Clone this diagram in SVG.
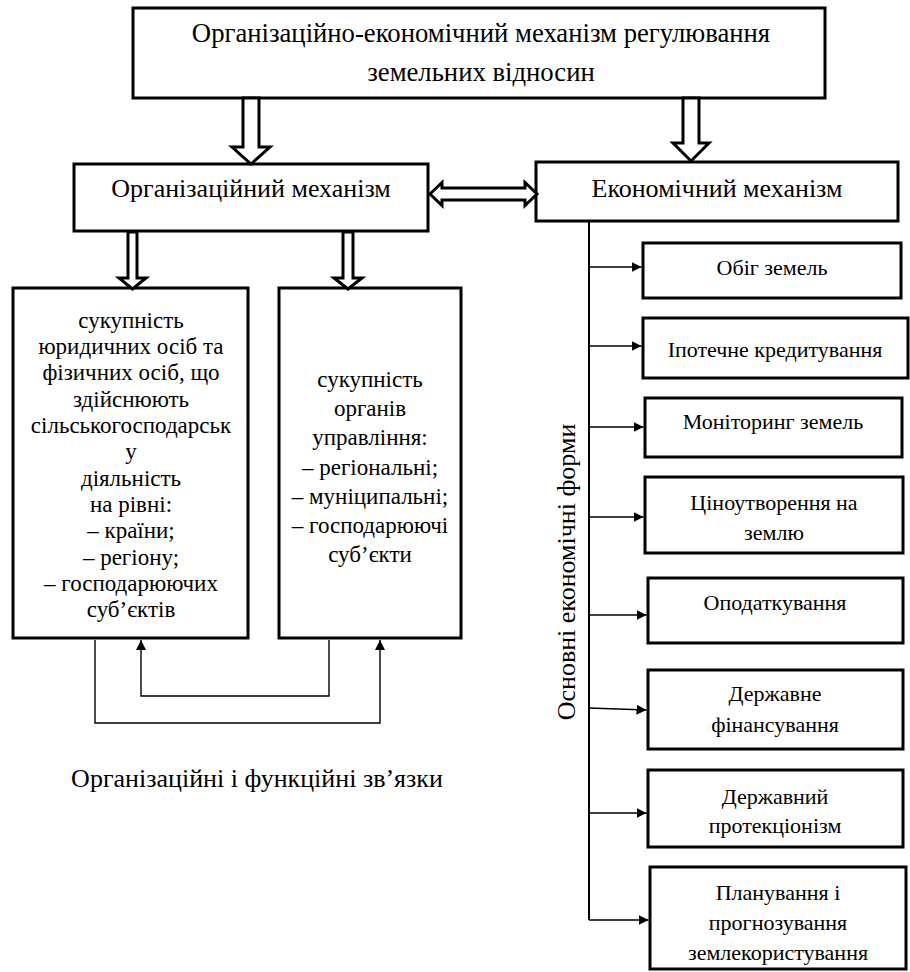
<svg xmlns="http://www.w3.org/2000/svg" width="910" height="972" viewBox="0 0 910 972">
<style>
.box{fill:#fff;stroke:#000;stroke-width:3}
.blk{fill:#fff;stroke:#000;stroke-width:3;stroke-linejoin:miter}
.t{font-family:"Liberation Serif","Times New Roman",serif;fill:#000;text-anchor:middle}
.t27{font-size:26.7px}
.t26{font-size:26px}
.t23{font-size:23px}
.t22{font-size:22px}
.ln{fill:none;stroke:#000;stroke-width:1.4}
</style>
<defs>
<marker id="ah" viewBox="0 0 10 10" refX="10" refY="5" markerWidth="10" markerHeight="10" markerUnits="userSpaceOnUse" orient="auto">
<path d="M0,0 L10,5 L0,10 z" fill="#000"/>
</marker>
</defs>
<rect width="910" height="972" fill="#fff"/>

<g id="top">
<rect class="box" x="133" y="8" width="692" height="90"/>
<text class="t t27" x="481" y="42">Організаційно-економічний механізм регулювання</text>
<text class="t t27" x="481" y="81">земельних відносин</text>
</g>

<g id="org">
<rect class="box" x="74" y="164" width="354" height="67"/>
<text class="t t26" x="251" y="197">Організаційний механізм</text>
</g>

<g id="econ">
<rect class="box" x="536" y="162" width="362" height="59"/>
<text class="t t26" x="717" y="197">Економічний механізм</text>
</g>

<g id="left-box">
<rect class="box" x="13" y="288" width="235" height="350"/>
<text class="t t23" x="131" y="328">сукупність</text>
<text class="t t23" x="131" y="354">юридичних осіб та</text>
<text class="t t23" x="131" y="380">фізичних осіб, що</text>
<text class="t t23" x="131" y="407">здійснюють</text>
<text class="t t23" x="131" y="433">сільськогосподарськ</text>
<text class="t t23" x="131" y="459">у</text>
<text class="t t23" x="131" y="486">діяльність</text>
<text class="t t23" x="131" y="512">на рівні:</text>
<text class="t t23" x="131" y="538">– країни;</text>
<text class="t t23" x="131" y="565">– регіону;</text>
<text class="t t23" x="131" y="591">– господарюючих</text>
<text class="t t23" x="131" y="617">суб’єктів</text>
</g>

<g id="right-box">
<rect class="box" x="279" y="288" width="182" height="350"/>
<text class="t t23" x="370" y="387">сукупність</text>
<text class="t t23" x="370" y="416">органів</text>
<text class="t t23" x="370" y="445">управління:</text>
<text class="t t23" x="370" y="475">– регіональні;</text>
<text class="t t23" x="370" y="504">– муніципальні;</text>
<text class="t t23" x="370" y="533">– господарюючі</text>
<text class="t t23" x="370" y="562">суб’єкти</text>
</g>

<g id="label-links">
<text class="t t26" x="257" y="787">Організаційні і функційні зв’язки</text>
</g>

<g id="label-forms">
<text class="t t26" transform="translate(575,572) rotate(-90)" x="0" y="0">Основні економічні форми</text>
</g>

<g id="f1"><rect class="box" x="643" y="243" width="258" height="55"/><text class="t t22" x="772" y="275">Обіг земель</text></g>
<g id="f2"><rect class="box" x="643" y="318" width="265" height="60"/><text class="t t22" x="775" y="357">Іпотечне кредитування</text></g>
<g id="f3"><rect class="box" x="645" y="398" width="257" height="59"/><text class="t t22" x="773" y="429">Моніторинг земель</text></g>
<g id="f4"><rect class="box" x="645" y="477" width="258" height="76"/><text class="t t22" x="774" y="510">Ціноутворення на</text><text class="t t22" x="774" y="540">землю</text></g>
<g id="f5"><rect class="box" x="648" y="578" width="255" height="65"/><text class="t t22" x="775" y="610">Оподаткування</text></g>
<g id="f6"><rect class="box" x="648" y="670" width="255" height="79"/><text class="t t22" x="775" y="701">Державне</text><text class="t t22" x="775" y="732">фінансування</text></g>
<g id="f7"><rect class="box" x="648" y="770" width="255" height="77"/><text class="t t22" x="775" y="804">Державний</text><text class="t t22" x="775" y="833">протекціонізм</text></g>
<g id="f8"><rect class="box" x="650" y="867" width="256" height="102"/><text class="t t22" x="778" y="900">Планування і</text><text class="t t22" x="778" y="930">прогнозування</text><text class="t t22" x="778" y="960">землекористування</text></g>

<g id="connectors">
<polygon class="blk" points="243,98 259,98 259,147 270,147 251,164 232,147 243,147"/>
<polygon class="blk" points="683,98 699,98 699,143 709,143 691,161 673,143 683,143"/>
<polygon class="blk" points="128,232 137,232 137,278 146,278 132.5,289 119,278 128,278"/>
<polygon class="blk" points="343,232 353,232 353,278 362,278 348,289 334,278 343,278"/>
<polygon class="blk" points="430,194 442,182.5 442,188 525,188 525,182.5 537,194 525,205.5 525,200 442,200 442,205.5"/>
<path class="ln" d="M95,640 V723 H380 V640" marker-end="url(#ah)"/>
<path class="ln" d="M329,640 V696 H141 V640" marker-end="url(#ah)"/>
<path fill="none" stroke="#000" stroke-width="2" d="M589,221 V920"/>
<path class="ln" d="M589,267 H641.5" marker-end="url(#ah)"/>
<path class="ln" d="M589,346 H641.5" marker-end="url(#ah)"/>
<path class="ln" d="M589,427 H643.5" marker-end="url(#ah)"/>
<path class="ln" d="M589,517 H643.5" marker-end="url(#ah)"/>
<path class="ln" d="M589,615 H646.5" marker-end="url(#ah)"/>
<path class="ln" d="M589,708 L646.5,710" marker-end="url(#ah)"/>
<path class="ln" d="M589,813 H646.5" marker-end="url(#ah)"/>
<path class="ln" d="M589,920 H648.5" marker-end="url(#ah)"/>
</g>
</svg>
